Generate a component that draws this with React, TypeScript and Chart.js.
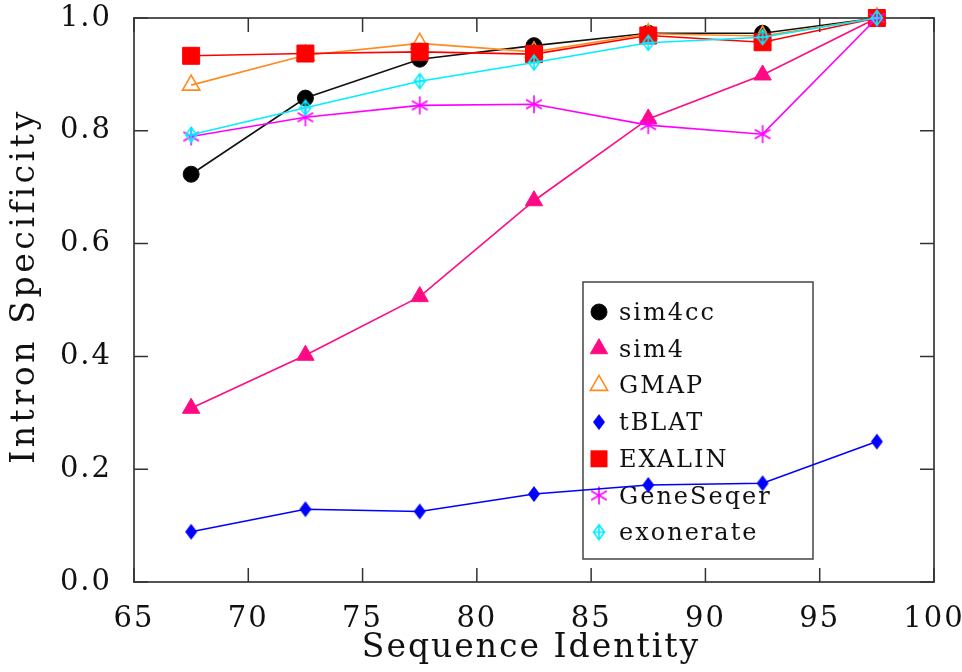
import React, { useEffect, useRef } from 'react';
import { Chart, registerables } from 'chart.js';

Chart.register(...registerables);

// ---------- data ----------
const identity = [67.5, 72.5, 77.5, 82.5, 87.5, 92.5, 97.5];
const sim4cc = [0.723, 0.858, 0.927, 0.951, 0.973, 0.973, 1.0];
const sim4 = [0.308, 0.402, 0.506, 0.676, 0.821, 0.899, 1.0];
const gmap = [0.881, 0.934, 0.955, 0.94, 0.972, 0.968, 1.0];
const tblat = [0.089, 0.129, 0.125, 0.156, 0.172, 0.175, 0.249];
const exalin = [0.933, 0.937, 0.94, 0.936, 0.969, 0.957, 1.0];
const geneseqer = [0.79, 0.824, 0.845, 0.847, 0.81, 0.794, 1.0];
const exonerate = [0.793, 0.841, 0.888, 0.921, 0.956, 0.966, 1.0];
const seriesNames = ['sim4cc', 'sim4', 'GMAP', 'tBLAT', 'EXALIN', 'GeneSeqer', 'exonerate'];
const xTicks = [65, 70, 75, 80, 85, 90, 95, 100];
const yTicks = [0, 0.2, 0.4, 0.6, 0.8, 1.0];
const xTitle = 'Sequence Identity';
const yTitle = 'Intron Specificity';

const FONT = "'DejaVu Serif', serif";

function makeCanvas(w: number, h: number, draw: (c: CanvasRenderingContext2D) => void) {
  const c = document.createElement('canvas');
  c.width = w;
  c.height = h;
  const ctx = c.getContext('2d') as CanvasRenderingContext2D;
  draw(ctx);
  return c;
}

function buildMarkers() {
  const diamondFilled = makeCanvas(16, 20, (c) => {
    c.fillStyle = '#0000ff';
    c.beginPath();
    c.moveTo(8, 2);
    c.lineTo(14, 10);
    c.lineTo(8, 18);
    c.lineTo(2, 10);
    c.closePath();
    c.fill();
  });
  const diamondCross = makeCanvas(16, 20, (c) => {
    c.strokeStyle = '#00eeff';
    c.lineWidth = 1.6;
    c.beginPath();
    c.moveTo(8, 2.5);
    c.lineTo(13.5, 10);
    c.lineTo(8, 17.5);
    c.lineTo(2.5, 10);
    c.closePath();
    c.moveTo(8, 2.5);
    c.lineTo(8, 17.5);
    c.moveTo(2.5, 10);
    c.lineTo(13.5, 10);
    c.stroke();
  });
  const asterisk = makeCanvas(22, 22, (c) => {
    c.strokeStyle = '#ff00ff';
    c.lineWidth = 1.6;
    c.beginPath();
    const r = 9;
    for (const a of [90, 30, -30]) {
      const rad = (a * Math.PI) / 180;
      c.moveTo(11 - r * Math.cos(rad), 11 - r * Math.sin(rad));
      c.lineTo(11 + r * Math.cos(rad), 11 + r * Math.sin(rad));
    }
    c.stroke();
  });
  return { diamondFilled, diamondCross, asterisk };
}

type Style = {
  color: string;
  pointStyle: any;
  radius: number;
  fill: string;
  borderWidth: number;
};

export default function App() {
  const ref = useRef<HTMLCanvasElement>(null);

  useEffect(() => {
    const canvas = ref.current;
    if (!canvas) return;
    const m = buildMarkers();

    const styles: Style[] = [
      { color: '#111111', pointStyle: 'circle', radius: 8, fill: '#000000', borderWidth: 1 },
      { color: '#ff0a84', pointStyle: 'triangle', radius: 10, fill: '#ff0a84', borderWidth: 1 },
      { color: '#ff8a1e', pointStyle: 'triangle', radius: 10, fill: 'rgba(255,255,255,0)', borderWidth: 1.6 },
      { color: '#0000ff', pointStyle: m.diamondFilled, radius: 8, fill: '#0000ff', borderWidth: 1 },
      { color: '#ff0000', pointStyle: 'rect', radius: 12, fill: '#ff0000', borderWidth: 1 },
      { color: '#ff00ff', pointStyle: m.asterisk, radius: 8, fill: '#ff00ff', borderWidth: 1 },
      { color: '#00eeff', pointStyle: m.diamondCross, radius: 8, fill: '#00eeff', borderWidth: 1 },
    ];
    const values = [sim4cc, sim4, gmap, tblat, exalin, geneseqer, exonerate];

    const datasets = values.map((vals, i) => ({
      label: seriesNames[i],
      data: identity.map((x, j) => ({ x, y: vals[j] })),
      borderColor: styles[i].color,
      backgroundColor: styles[i].fill,
      borderWidth: 1.6,
      pointStyle: styles[i].pointStyle,
      pointRadius: styles[i].radius,
      pointBackgroundColor: styles[i].fill,
      pointBorderColor: styles[i].color,
      pointBorderWidth: styles[i].borderWidth,
      tension: 0,
      clip: false as any,
      order: values.length - i,
    }));

    const drawMarker = (ctx: CanvasRenderingContext2D, s: Style, x: number, y: number) => {
      ctx.save();
      ctx.fillStyle = s.fill;
      ctx.strokeStyle = s.color;
      ctx.lineWidth = s.borderWidth;
      if (typeof s.pointStyle !== 'string') {
        const c = s.pointStyle as HTMLCanvasElement;
        ctx.drawImage(c, x - c.width / 2, y - c.height / 2);
      } else if (s.pointStyle === 'circle') {
        ctx.beginPath();
        ctx.arc(x, y, s.radius, 0, Math.PI * 2);
        ctx.fill();
        ctx.stroke();
      } else if (s.pointStyle === 'rect') {
        const h = s.radius * Math.SQRT1_2;
        ctx.fillRect(x - h, y - h, 2 * h, 2 * h);
      } else if (s.pointStyle === 'triangle') {
        const r = s.radius;
        ctx.beginPath();
        ctx.moveTo(x, y - r);
        ctx.lineTo(x + r * Math.sin((2 * Math.PI) / 3), y - r * Math.cos((2 * Math.PI) / 3));
        ctx.lineTo(x + r * Math.sin((4 * Math.PI) / 3), y - r * Math.cos((4 * Math.PI) / 3));
        ctx.closePath();
        ctx.fill();
        ctx.stroke();
      }
      ctx.restore();
    };

    const framePlugin = {
      id: 'frameAndLegend',
      beforeDraw(chart: any) {
        chart.ctx.letterSpacing = '2px';
      },
      beforeDatasetsDraw(chart: any) {
        const { ctx, chartArea, scales } = chart;
        const { left, right, top, bottom } = chartArea;
        ctx.save();
        ctx.strokeStyle = '#555555';
        ctx.lineWidth = 2;
        ctx.strokeRect(left, top, right - left, bottom - top);
        ctx.strokeStyle = '#333333';
        ctx.lineWidth = 1.5;
        ctx.beginPath();
        const tl = 14;
        for (const v of xTicks) {
          const px = scales.x.getPixelForValue(v);
          ctx.moveTo(px, bottom);
          ctx.lineTo(px, bottom - tl);
          ctx.moveTo(px, top);
          ctx.lineTo(px, top + tl);
        }
        for (const v of yTicks) {
          const py = scales.y.getPixelForValue(v);
          ctx.moveTo(left, py);
          ctx.lineTo(left + tl, py);
          ctx.moveTo(right, py);
          ctx.lineTo(right - tl, py);
        }
        ctx.stroke();

        // legend box
        const bx = 583, by = 282, bw = 230, bh = 277;
        ctx.fillStyle = '#ffffff';
        ctx.fillRect(bx, by, bw, bh);
        ctx.strokeStyle = '#444444';
        ctx.lineWidth = 1.5;
        ctx.strokeRect(bx, by, bw, bh);
        ctx.font = `24px ${FONT}`;
        ctx.letterSpacing = '2px';
        ctx.fillStyle = '#111111';
        ctx.textBaseline = 'alphabetic';
        ctx.textAlign = 'left';
        seriesNames.forEach((name, i) => {
          const cy = 312 + i * 36.7;
          drawMarker(ctx, styles[i], 599, cy);
          ctx.fillStyle = '#111111';
          ctx.fillText(name, 619, cy + 8);
        });
        ctx.restore();
      },
      afterDraw(chart: any) {
        const { ctx, chartArea } = chart;
        ctx.save();
        ctx.font = `33px ${FONT}`;
        ctx.fillStyle = '#111111';
        ctx.letterSpacing = '2px';
        ctx.textAlign = 'center';
        ctx.textBaseline = 'alphabetic';
        ctx.fillText(xTitle, (chartArea.left + chartArea.right) / 2 - 3, 657);
        ctx.letterSpacing = '3.6px';
        ctx.translate(34, 286);
        ctx.rotate(-Math.PI / 2);
        ctx.fillText(yTitle, 0, 0);
        ctx.restore();
      },
    };

    const chart = new Chart(canvas, {
      type: 'line',
      data: { datasets: datasets as any },
      options: {
        animation: false,
        responsive: false,
        events: [],
        layout: { padding: { top: 18, right: 28, left: 0, bottom: 0 } },
        plugins: {
          legend: { display: false },
          tooltip: { enabled: false },
          title: { display: false },
        },
        scales: {
          x: {
            type: 'linear',
            min: 65,
            max: 100,
            grid: { display: false, drawTicks: false },
            border: { display: false },
            afterBuildTicks: (s: any) => {
              s.ticks = xTicks.map((v) => ({ value: v }));
            },
            afterFit: (s: any) => {
              s.height = 90;
              s.paddingLeft = 0;
              s.paddingRight = 0;
            },
            ticks: {
              font: { family: FONT, size: 29 },
              color: '#111111',
              padding: 20,
              maxRotation: 0,
              autoSkip: false,
              callback: (v: any) => String(v),
            },
          },
          y: {
            type: 'linear',
            min: 0,
            max: 1,
            grid: { display: false, drawTicks: false },
            border: { display: false },
            afterBuildTicks: (s: any) => {
              s.ticks = yTicks.map((v) => ({ value: v }));
            },
            afterFit: (s: any) => {
              s.width = 134;
              s.paddingTop = 0;
              s.paddingBottom = 0;
            },
            ticks: {
              font: { family: FONT, size: 29 },
              color: '#111111',
              padding: 22,
              autoSkip: false,
              callback: (v: any) => Number(v).toFixed(1),
            },
          },
        },
      },
      plugins: [framePlugin],
    });

    return () => chart.destroy();
  }, []);

  return (
    <div style={{ position: 'absolute', left: 0, top: 0, width: 962, height: 672, background: '#ffffff' }}>
      <canvas ref={ref} width={962} height={672} style={{ display: 'block', width: 962, height: 672 }} />
    </div>
  );
}
